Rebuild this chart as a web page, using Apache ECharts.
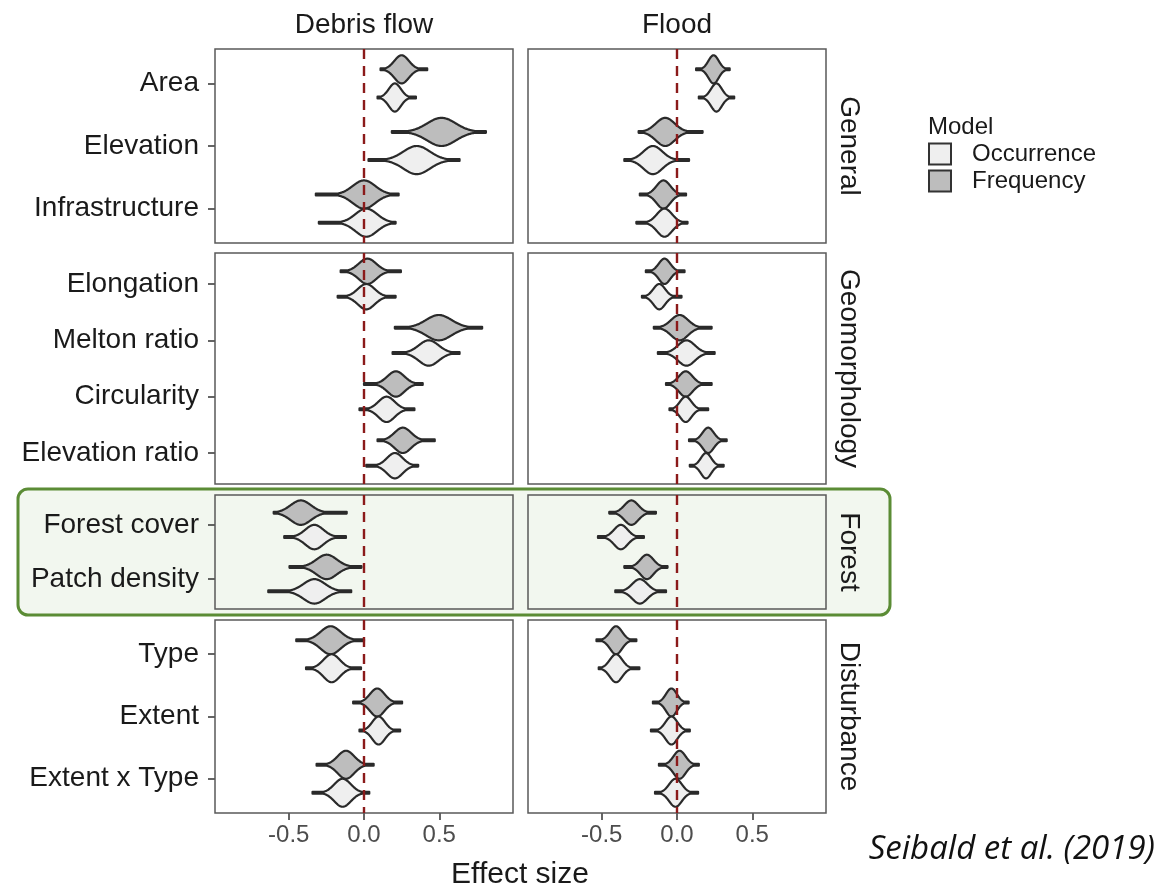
<!DOCTYPE html>
<html><head><meta charset="utf-8">
<script src="https://cdn.jsdelivr.net/npm/echarts@6/dist/echarts.min.js"></script>
<style>html,body{margin:0;padding:0;background:#fff}#c{width:1159px;height:889px}</style>
</head><body><div id="c"></div>
<script>
// ---------------- data ----------------
const facetColumns = ['Debris flow', 'Flood'];
const groupNames = ['General', 'Geomorphology', 'Forest', 'Disturbance'];
const groupVariables = [
  ['Area', 'Elevation', 'Infrastructure'],
  ['Elongation', 'Melton ratio', 'Circularity', 'Elevation ratio'],
  ['Forest cover', 'Patch density'],
  ['Type', 'Extent', 'Extent x Type']
];
const xTicks = [-0.5, 0, 0.5];
const models = ['Occurrence', 'Frequency'];

// order: Area, Elevation, Infrastructure, Elongation, Melton ratio, Circularity,
//        Elevation ratio, Forest cover, Patch density, Type, Extent, Extent x Type
const debrisFreqPeak = [0.25, 0.515, 0.0, 0.023, 0.497, 0.212, 0.258, -0.42, -0.248, -0.222, 0.088, -0.12];
const debrisFreqSd   = [0.048, 0.095, 0.075, 0.058, 0.085, 0.056, 0.055, 0.068, 0.068, 0.066, 0.048, 0.055];
const debrisFreqLo   = [0.11, 0.185, -0.32, -0.155, 0.205, 0.0, 0.09, -0.6, -0.495, -0.45, -0.072, -0.315];
const debrisFreqHi   = [0.42, 0.81, 0.23, 0.245, 0.785, 0.39, 0.47, -0.115, -0.017, 0.0, 0.253, 0.064];

const debrisOccPeak = [0.205, 0.35, 0.015, 0.015, 0.43, 0.15, 0.205, -0.33, -0.33, -0.215, 0.097, -0.142];
const debrisOccSd   = [0.04, 0.088, 0.072, 0.056, 0.066, 0.054, 0.052, 0.06, 0.072, 0.054, 0.042, 0.055];
const debrisOccLo   = [0.09, 0.03, -0.30, -0.175, 0.19, -0.03, 0.015, -0.53, -0.636, -0.385, -0.03, -0.342];
const debrisOccHi   = [0.345, 0.635, 0.21, 0.21, 0.635, 0.335, 0.36, -0.12, -0.085, -0.02, 0.24, 0.035];

const floodFreqPeak = [0.243, -0.078, -0.09, -0.083, 0.017, 0.058, 0.207, -0.303, -0.2, -0.405, -0.037, 0.017];
const floodFreqSd   = [0.034, 0.062, 0.046, 0.038, 0.056, 0.045, 0.037, 0.046, 0.043, 0.04, 0.036, 0.04];
const floodFreqLo   = [0.127, -0.255, -0.247, -0.207, -0.154, -0.073, 0.08, -0.45, -0.35, -0.535, -0.16, -0.12];
const floodFreqHi   = [0.35, 0.17, 0.06, 0.05, 0.23, 0.23, 0.33, -0.14, -0.063, -0.27, 0.077, 0.145];

const floodOccPeak = [0.262, -0.16, -0.083, -0.118, 0.063, 0.058, 0.193, -0.373, -0.247, -0.405, -0.037, -0.01];
const floodOccSd   = [0.036, 0.063, 0.05, 0.039, 0.056, 0.038, 0.034, 0.045, 0.05, 0.041, 0.039, 0.042];
const floodOccLo   = [0.145, -0.35, -0.27, -0.233, -0.127, -0.05, 0.085, -0.525, -0.41, -0.52, -0.173, -0.146];
const floodOccHi   = [0.38, 0.08, 0.07, 0.03, 0.25, 0.207, 0.31, -0.22, -0.073, -0.25, 0.085, 0.14];

// ---------------- layout / style ----------------
const FONT = "'Liberation Sans', Arial, sans-serif";
const colLeft = [215, 528];
const colWidth = [298, 298];
const rowTop = [49, 253, 495, 620];
const rowHeight = [194, 231, 114, 193];
const fills = { Occurrence: '#efefef', Frequency: '#bdbdbd' };
const halfW = 0.225;

const valueSets = {
  0: { Frequency: [debrisFreqPeak, debrisFreqSd, debrisFreqLo, debrisFreqHi],
       Occurrence: [debrisOccPeak, debrisOccSd, debrisOccLo, debrisOccHi] },
  1: { Frequency: [floodFreqPeak, floodFreqSd, floodFreqLo, floodFreqHi],
       Occurrence: [floodOccPeak, floodOccSd, floodOccLo, floodOccHi] }
};

function makeRender(model) {
  const off = model === 'Frequency' ? -halfW : halfW;
  const fill = fills[model];
  return function (params, api) {
    const peak = api.value(0), pos = api.value(1), sd = api.value(2), lo = api.value(3), hi = api.value(4);
    const cy = api.coord([peak, pos + off])[1];
    const hh = Math.abs(api.size([0, halfW])[1]);
    const steps = 160;
    const top = [], bot = [];
    for (let i = 0; i <= steps; i++) {
      const x = lo + (hi - lo) * i / steps;
      const px = api.coord([x, pos])[0];
      const d = Math.exp(-0.5 * Math.pow((x - peak) / sd, 2));
      const h = Math.max(d * hh, 0.9);
      top.push([px, cy - h]);
      bot.unshift([px, cy + h]);
    }
    return {
      type: 'polygon',
      shape: { points: top.concat(bot) },
      style: { fill: fill, stroke: '#2a2a2a', lineWidth: 2.2, lineJoin: 'round' }
    };
  };
}

const grids = [], xAxes = [], yAxes = [], series = [];
let varOffset = 0;
groupVariables.forEach((vars, r) => {
  const n = vars.length;
  const yVals = vars.map((v, i) => i + 1);
  for (let c = 0; c < 2; c++) {
    const idx = grids.length;
    grids.push({
      left: colLeft[c], top: rowTop[r], width: colWidth[c], height: rowHeight[r],
      show: true, borderColor: '#5a5a5a', borderWidth: 1.5,
      backgroundColor: r === 2 ? 'transparent' : '#ffffff', z: 1
    });
    xAxes.push({
      gridIndex: idx, type: 'value', min: -0.99, max: 0.99, position: 'bottom',
      axisLine: { show: false, onZero: false }, splitLine: { show: false },
      axisTick: { show: r === 3, customValues: xTicks, length: 7, lineStyle: { color: '#333', width: 1.5 } },
      axisLabel: { show: r === 3, customValues: xTicks, formatter: v => v.toFixed(1),
        fontSize: 24, color: '#4d4d4d', fontFamily: FONT, margin: 10 }
    });
    yAxes.push({
      gridIndex: idx, type: 'value', inverse: true, min: 0.45, max: n + 0.55, position: 'left',
      axisLine: { show: false, onZero: false }, splitLine: { show: false },
      axisTick: { show: c === 0, customValues: yVals, length: 7, lineStyle: { color: '#333', width: 1.5 } },
      axisLabel: { show: c === 0, customValues: yVals, formatter: v => vars[Math.round(v) - 1],
        fontSize: 28, color: '#1a1a1a', fontFamily: FONT, margin: 16 }
    });
    ['Frequency', 'Occurrence'].forEach(model => {
      const arr = valueSets[c][model];
      const data = vars.map((v, i) => {
        const k = varOffset + i;
        return [arr[0][k], i + 1, arr[1][k], arr[2][k], arr[3][k]];
      });
      series.push({
        type: 'custom', name: model, xAxisIndex: idx, yAxisIndex: idx,
        renderItem: makeRender(model), data: data, z: 3, silent: true,
        itemStyle: { color: fills[model], borderColor: '#262626' },
        encode: { x: [0, 3, 4], y: 1 }
      });
    });
    series.push({
      type: 'line', xAxisIndex: idx, yAxisIndex: idx, data: [], z: 6, silent: true,
      markLine: {
        silent: true, symbol: ['none', 'none'], label: { show: false }, animation: false,
        lineStyle: { color: '#8b1a1a', type: [10, 7], width: 2.4 },
        data: [{ xAxis: 0 }]
      }
    });
  }
  varOffset += n;
});

const graphics = [
  { type: 'rect', z: -10, shape: { x: 18, y: 489, width: 872, height: 126, r: 10 },
    style: { fill: '#f2f7ef', stroke: '#5b8c35', lineWidth: 3 } }
];
facetColumns.forEach((t, c) => {
  graphics.push({ type: 'text', x: colLeft[c] + colWidth[c] / 2, y: 25,
    style: { text: t, font: '28px ' + FONT, fill: '#1a1a1a', textAlign: 'center', textVerticalAlign: 'middle' } });
});
groupNames.forEach((g, r) => {
  graphics.push({ type: 'text', x: 849, y: rowTop[r] + rowHeight[r] / 2, rotation: -Math.PI / 2,
    style: { text: g, font: '28px ' + FONT, fill: '#1a1a1a', textAlign: 'center', textVerticalAlign: 'middle' } });
});
graphics.push({ type: 'text', x: 520, y: 875,
  style: { text: 'Effect size', font: '30px ' + FONT, fill: '#1a1a1a', textAlign: 'center', textVerticalAlign: 'middle' } });
graphics.push({ type: 'text', x: 928, y: 127,
  style: { text: 'Model', font: '24px ' + FONT, fill: '#1a1a1a', textAlign: 'left', textVerticalAlign: 'middle' } });
graphics.push({ type: 'text', x: 1155, y: 850,
  style: { text: 'Seibald et al. (2019)', font: 'italic 33px "Open Sans", sans-serif', fill: '#111', textAlign: 'right', textVerticalAlign: 'middle' } });

const chart = echarts.init(document.getElementById('c'), null, { renderer: 'canvas' });
chart.setOption({
  animation: false,
  backgroundColor: '#ffffff',
  grid: grids, xAxis: xAxes, yAxis: yAxes, series: series,
  legend: {
    orient: 'vertical', left: 928, top: 142, padding: 0, itemWidth: 22, itemHeight: 21, itemGap: 3,
    icon: 'rect', selectedMode: false,
    textStyle: { fontSize: 24, color: '#1a1a1a', fontFamily: FONT, lineHeight: 21, padding: [0, 0, 0, 16] },
    data: [
      { name: 'Occurrence', itemStyle: { color: '#efefef', borderColor: '#333', borderWidth: 2 } },
      { name: 'Frequency', itemStyle: { color: '#bdbdbd', borderColor: '#333', borderWidth: 2 } }
    ]
  },
  graphic: { elements: graphics }
});
</script></body></html>
